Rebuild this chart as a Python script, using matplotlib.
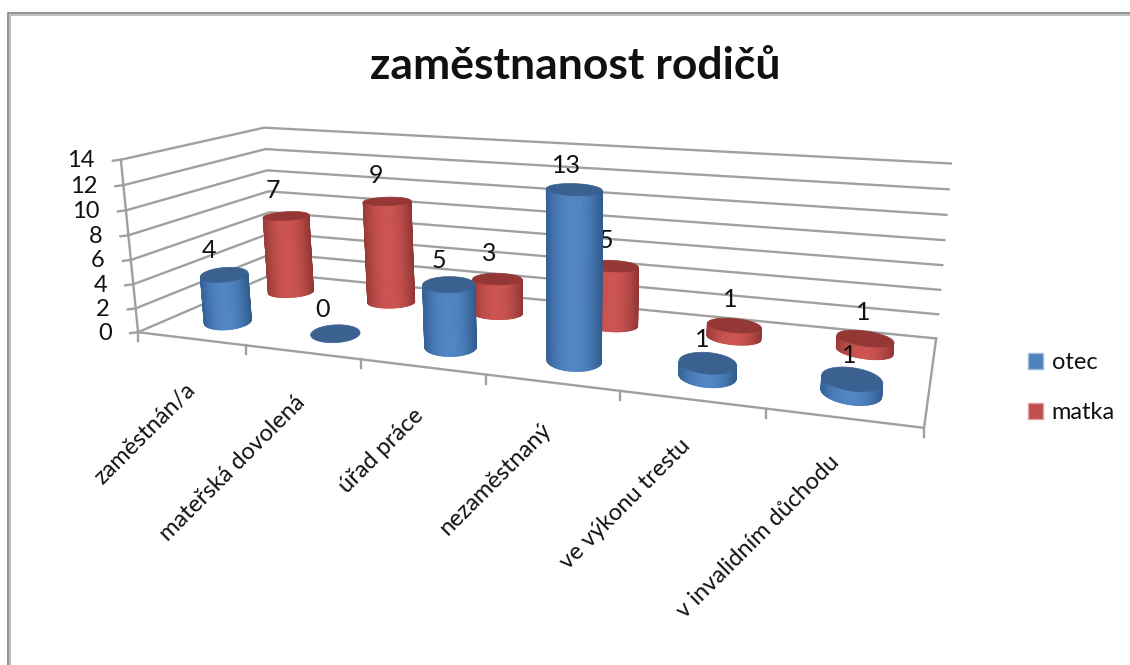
import numpy as np
import matplotlib
matplotlib.use('Agg')
import matplotlib.pyplot as plt
from matplotlib.collections import PolyCollection
from matplotlib.colors import to_rgb
from matplotlib.patches import Patch, Polygon

plt.rcParams['font.family'] = ['Lato', 'DejaVu Sans']

categories = ['zaměstnán/a', 'mateřská dovolená', 'úřad práce', 'nezaměstnaný',
              've výkonu trestu', 'v invalidním důchodu']
otec = [4, 0, 5, 13, 1, 1]
matka = [7, 9, 3, 5, 1, 1]
y_ticks = [0, 2, 4, 6, 8, 10, 12, 14]

# rohy sceny (kategorie, hloubka, hodnota) -> pixely obrazku, z nich se spocita projekce
world_pts = [(0, 0, 0), (6, 0, 0), (0, 1, 0), (6, 1, 0), (0, 0, 14), (0, 1, 14), (6, 1, 14)]
pixel_pts = [(137, 331), (924, 429), (275, 275), (936, 337), (122, 160), (263, 127), (951, 164)]


def fit_camera(world, pixel):
    rows = []
    for (u, v, z), (px, py) in zip(world, pixel):
        rows.append([u, v, z, 1, 0, 0, 0, 0, -px * u, -px * v, -px * z, -px])
        rows.append([0, 0, 0, 0, u, v, z, 1, -py * u, -py * v, -py * z, -py])
    return np.linalg.svd(np.array(rows, dtype=float))[2][-1].reshape(3, 4)


camera = fit_camera(world_pts, pixel_pts)


def proj(u, v, z):
    u, v, z = np.broadcast_arrays(u, v, z)
    p = camera @ np.stack([u, v, z, np.ones_like(u)]).astype(float).reshape(4, -1)
    return (p[0] / p[2]).reshape(u.shape), (p[1] / p[2]).reshape(u.shape)


fig = plt.figure(figsize=(11.3, 6.65), dpi=100)
ax = fig.add_axes([0, 0, 1, 1])
ax.set_xlim(0, 1130)
ax.set_ylim(665, 0)
ax.axis('off')

# ramecek grafu
ax.plot([8, 8, 1130], [665, 13, 13], color='#808080', lw=1.2, zorder=1)
ax.plot([9.5, 9.5, 1130], [665, 14.5, 14.5], color='#b4b4b4', lw=1.2, zorder=1)

grid_c = '#a0a0a0'
for t in y_ticks:
    xs, ys = proj(np.array([0, 0, 6]), np.array([0, 1, 1]), t)
    ax.plot(xs, ys, color=grid_c, lw=1.7, zorder=2)
    tx, ty = proj(0, 0, t)
    ax.plot([tx - 8, tx], [ty + 1, ty], color=grid_c, lw=1.7, zorder=2)
    ax.text(tx - 26, ty + 1, str(t), ha='right', va='center', fontsize=17, color='#111111', zorder=3)

xs, ys = proj(np.array([0, 0]), np.array([0, 0]), np.array([0, 14]))
ax.plot(xs, ys, color=grid_c, lw=1.7, zorder=2)
xs, ys = proj(np.array([0, 6, 6]), np.array([0, 0, 1]), 0)
ax.plot(xs, ys, color=grid_c, lw=1.7, zorder=2)
for i in range(len(categories) + 1):
    tx, ty = proj(i, 0, 0)
    ax.plot([tx, tx], [ty, ty + 9], color=grid_c, lw=1.7, zorder=2)

# popisky kategorii
for i, name in enumerate(categories):
    tx, ty = proj(i + 0.5, 0, 0)
    ax.text(tx + 1 - 1.6 * i, ty + 48 - 1.4 * i, name, rotation=45, rotation_mode='anchor', ha='right', va='center',
            fontsize=17, color='#111111', zorder=3)


def lerp(c1, c2, t):
    return tuple(np.array(to_rgb(c1)) * (1 - t) + np.array(to_rgb(c2)) * t)


def disc(u0, depth, z, rad_v):
    # elipsa v pixelech, stred a rozmery z projekce
    cx, cy = proj(u0, depth, z)
    x1, _ = proj(u0 + 0.5, depth, z)
    x2, _ = proj(u0 - 0.5, depth, z)
    _, y1 = proj(u0, depth + 0.5, z)
    _, y2 = proj(u0, depth - 0.5, z)
    hw = 8 + 0.15 * (x1 - x2)
    hh = rad_v * (y2 - y1)
    tilt = (cx - 470) / 3000
    th = np.linspace(0, 2 * np.pi, 121)
    xs = cx + hw * np.cos(th)
    ys = cy + hh * np.sin(th) + tilt * hw * np.cos(th)
    return xs, ys, cx, cy


def cylinder(i, depth, value, side_mid, side_edge, top_c, rad_v, z):
    u0 = i + 0.5
    bx, by, _, _ = disc(u0, depth, 0, rad_v)
    tx, ty, cx, cy = disc(u0, depth, value, rad_v)
    if value > 0:
        quads, cols = [], []
        for k in range(60):
            quads.append([(bx[k], by[k]), (bx[k + 1], by[k + 1]), (tx[k + 1], ty[k + 1]), (tx[k], ty[k])])
            f = 0.5 * (1 + np.cos((k + 0.5) * np.pi / 60))
            s = min(abs(f - 0.47) / 0.53, 1) ** 2
            cols.append(lerp(side_mid, side_edge, s))
        ax.add_collection(PolyCollection(quads, facecolors=cols, edgecolors=cols, linewidths=0.6, zorder=z))
    ax.add_patch(Polygon(np.column_stack([tx, ty]), closed=True, fc=top_c, ec=top_c, lw=0.5, zorder=z + 0.1))
    return cx, cy


blue = ('#5085c4', '#2f5a8c', '#3a6190')
red = ('#cc5350', '#8f3634', '#943735')
for i, val in enumerate(matka):
    x, y = cylinder(i, 0.74, val, *red, 0.10, 4)
    ax.text(x - 13 + 2.2 * i, y - 26, str(val), ha='center', va='center', fontsize=18, color='#111111', zorder=4.5)
for i, val in enumerate(otec):
    x, y = cylinder(i, 0.25, val, *blue, 0.125, 5)
    ax.text(x - 15 + 2.4 * i, y - 24, str(val), ha='center', va='center', fontsize=18, color='#111111', zorder=6)

ax.text(575, 66, 'zaměstnanost rodičů', ha='center', va='center', fontsize=32, fontweight='bold', color='#111111')

handles = [Patch(facecolor='#4f81bd', edgecolor='#9db9dc', label='otec'),
           Patch(facecolor='#c0504d', edgecolor='#e0a09e', label='matka')]
ax.legend(handles=handles, loc='upper left', bbox_to_anchor=(1007 / 1130, 1 - 331 / 665), frameon=False,
          fontsize=17, handlelength=0.64, handleheight=0.64, handletextpad=0.36, labelspacing=1.22, labelcolor='#111111')

fig.savefig('out.png', dpi=100)
